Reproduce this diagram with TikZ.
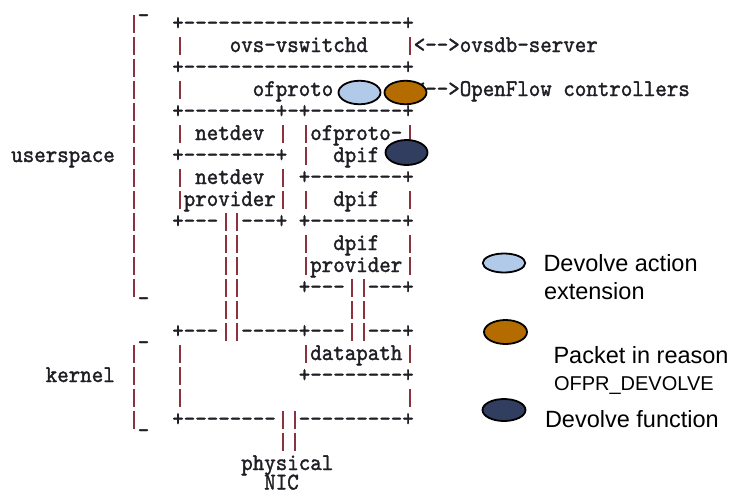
\documentclass[tikz,border=0pt]{standalone}
\usepackage{fontspec}
\newfontfamily\asciifont[Ligatures=TeXOff,FakeStretch=0.913,FakeBold=1.4]{lmmono10-regular.otf}
\newfontfamily\legendfont{Liberation Sans}
\usetikzlibrary{shapes.geometric}
\definecolor{barred}{RGB}{140,50,62}
\definecolor{asciigray}{RGB}{30,30,36}
\definecolor{extblue}{RGB}{178,202,234}
\definecolor{pktorange}{RGB}{180,108,0}
\definecolor{fnnavy}{RGB}{50,62,95}
\tikzset{
  asc/.style={anchor=base west, inner sep=0pt, outer sep=0pt, text=asciigray,
    font=\asciifont\fontsize{24}{24}\selectfont},
  vbar/.style={draw=barred, line width=2pt},
  mark ell/.style={ellipse, draw=black, line width=1.8pt, inner sep=0pt},
  legtext/.style={anchor=base west, inner sep=0pt, outer sep=0pt, text=black,
    font=\legendfont\fontsize{23.5}{28}\selectfont},
}
% text at column #2, line #3
\newcommand\asctext[4]{\node[asc] (#1) at ({11.25+11.5*#2},{8+22*#3}) {#4};}
% underscore at column #2, line #3
\newcommand\ascunder[3]{\node[asc] (#1) at ({11.25+11.5*#2},{9+22*#3}) {\_};}
\begin{document}
\begin{tikzpicture}[x=1pt,y=-1pt]
\fill[white] (0,0) rectangle (735,491);
\useasboundingbox (0,0) rectangle (735,491);

% vertical bars of the ASCII art (column/line)
\foreach \c/\l in {10/1,10/2,14/2,34/2,10/3,10/4,14/4,34/4,10/5,
  10/6,14/6,23/6,25/6,34/6, 10/7,25/7,34/7, 10/8,14/8,23/8,
  10/9,14/9,23/9,25/9,34/9, 10/10,18/10,19/10,
  10/11,18/11,19/11,25/11,34/11, 10/12,18/12,19/12,25/12,34/12,
  10/13,18/13,19/13,29/13,30/13, 18/14,19/14,29/14,30/14,
  18/15,19/15,29/15,30/15, 10/16,14/16,25/16,34/16,
  10/17,14/17, 10/18,14/18,34/18, 10/19,23/19,24/19, 23/20,24/20}
  \draw[vbar] ({18.5+11.5*\c},{22*\l-7}) -- ++(0,18);

% ASCII text
\node[asc] (u0) at ({11.25+11.5*11},12) {\_};
\asctext{b1}{14}{1}{+-------------------+}
\asctext{vsw}{19}{2}{ovs-vswitchd}
\asctext{ovsdb}{35}{2}{<-->ovsdb-server}
\asctext{b3}{14}{3}{+-------------------+}
\asctext{ofp}{21}{4}{ofproto}
\asctext{ofc}{35}{4}{<-->OpenFlow controllers}
\asctext{b5}{14}{5}{+--------+-+--------+}
\asctext{nd1}{16}{6}{netdev}
\asctext{ofpd1}{26}{6}{ofproto-}
\asctext{usr}{0}{7}{userspace}
\asctext{b7}{14}{7}{+--------+}
\asctext{ofpd2}{28}{7}{dpif}
\asctext{nd2}{16}{8}{netdev}
\asctext{b8}{25}{8}{+--------+}
\asctext{ndp}{15}{9}{provider}
\asctext{dpif}{28}{9}{dpif}
\asctext{b10a}{14}{10}{+---}
\asctext{b10b}{20}{10}{---+}
\asctext{b10c}{25}{10}{+--------+}
\asctext{dpp1}{28}{11}{dpif}
\asctext{dpp2}{26}{12}{provider}
\ascunder{u13}{11}{13}
\asctext{b13a}{25}{13}{+---}
\asctext{b13b}{31}{13}{---+}
\ascunder{u15}{11}{15}
\asctext{b15a}{14}{15}{+---}
\asctext{b15b}{20}{15}{-----+---}
\asctext{b15c}{31}{15}{---+}
\asctext{dp}{26}{16}{datapath}
\asctext{krn}{3}{17}{kernel}
\asctext{b17}{25}{17}{+--------+}
\ascunder{u19}{11}{19}
\asctext{b19a}{14}{19}{+--------}
\asctext{b19b}{25}{19}{---------+}
\asctext{nic1}{20}{21}{physical}
\node[asc] (nic2) at ({11.25+11.5*22},489.5) {NIC};

% markers on the diagram
\node[mark ell, fill=extblue, minimum width=42pt, minimum height=23.5pt] (ext) at (359.5,92.5) {};
\node[mark ell, fill=pktorange, minimum width=42pt, minimum height=23.5pt] (pkt) at (405.5,92.5) {};
\node[mark ell, fill=fnnavy, minimum width=42pt, minimum height=25pt] (fn) at (406.5,152.5) {};

% legend
\node[mark ell, fill=extblue, minimum width=42.5pt, minimum height=19pt] (lg1) at (504,263) {};
\node[mark ell, fill=pktorange, minimum width=43pt, minimum height=24pt] (lg2) at (505.5,332) {};
\node[mark ell, fill=fnnavy, minimum width=43pt, minimum height=22pt] (lg3) at (504,410) {};
\node[legtext] (t1a) at (543.5,271) {Devolve action};
\node[legtext] (t1b) at (544,299.5) {extension};
\node[legtext] (t2a) at (553.5,363) {Packet in reason};
\node[legtext, font=\legendfont\fontsize{20}{24}\selectfont] (t2b) at (554,390) {OFPR\_DEVOLVE};
\node[legtext] (t3) at (545,427) {Devolve function};
\end{tikzpicture}
\end{document}
